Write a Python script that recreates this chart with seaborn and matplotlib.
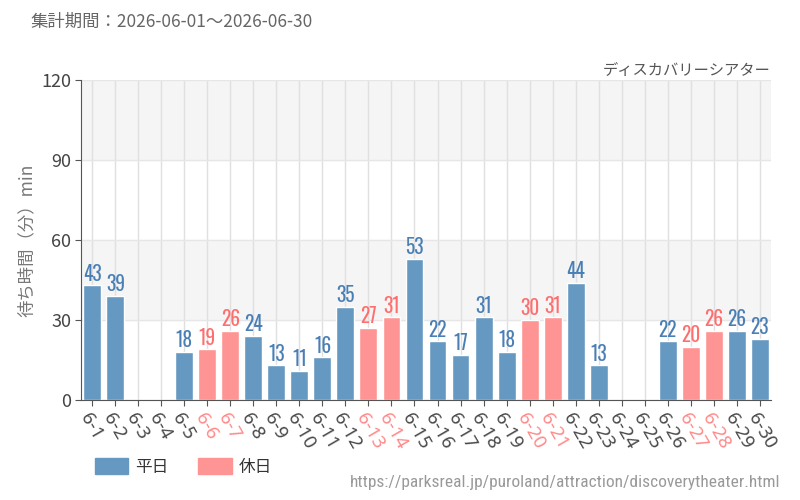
import numpy as np
import pandas as pd
import matplotlib
matplotlib.use("Agg")
import matplotlib.pyplot as plt
import seaborn as sns
from matplotlib.patches import Patch

# ─────────────── Data ───────────────
days = [f"6-{d}" for d in range(1, 31)]
wait = [43, 39, np.nan, np.nan, 18, 19, 26, 24, 13, 11,
        16, 35, 27, 31, 53, 22, 17, 31, 18, 30,
        31, 44, 13, np.nan, np.nan, 22, 20, 26, 26, 23]
holidays = ["6-6", "6-7", "6-13", "6-14", "6-20", "6-21", "6-27", "6-28"]
y_ticks = [0, 30, 60, 90, 120]

BLUE = "#6699c2"
PINK = "#ff9494"
BLUE_TXT = "#4a7fb5"
PINK_TXT = "#ff6e6e"

df = pd.DataFrame({"day": days, "wait": wait})
df["kind"] = np.where(df["day"].isin(holidays), "休日", "平日")

sns.set_style("white")
plt.rcParams["font.family"] = ["Noto Sans CJK JP", "DejaVu Sans"]
cond = ["Oswald", "Roboto Condensed", "Archivo Narrow", "DejaVu Sans"]
url_font = ["Roboto Condensed", "Archivo Narrow", "DejaVu Sans"]
tick_font = ["Noto Sans", "Open Sans", "DejaVu Sans"]

fig = plt.figure(figsize=(8, 5), dpi=100)
ax = fig.add_axes([0.101, 0.2, 0.863, 0.64])

# ─────────────── Background bands ───────────────
for lo, hi in [(30, 60), (90, 120)]:
    ax.axhspan(lo, hi, color="#f5f5f5", zorder=0)

# ─────────────── Bars ───────────────
sns.barplot(data=df, x="day", y="wait", hue="kind", dodge=False,
            palette={"平日": BLUE, "休日": PINK}, saturation=1, width=0.78,
            legend=False, ax=ax, zorder=2)

ax.set_ylim(0, 120)
ax.set_xlim(-0.5, len(days) - 0.5)
ax.set_yticks(y_ticks)
ax.grid(axis="x", color="#e0e0e0", lw=1, zorder=1)
ax.grid(axis="y", color="#e6e6e6", lw=1, zorder=1)
ax.set_axisbelow(True)

# ─────────────── Value labels ───────────────
for i, (d, v) in enumerate(zip(days, wait)):
    if np.isnan(v):
        continue
    c = PINK_TXT if d in holidays else BLUE_TXT
    ax.text(i, v + 0.6, f"{int(v)}", ha="center", va="bottom", fontsize=14,
            color=c, family=cond, zorder=3)

for s in ["top", "right"]:
    ax.spines[s].set_visible(False)
for s in ["left", "bottom"]:
    ax.spines[s].set_color("#555555")
ax.tick_params(axis="both", which="both", length=4, color="#555555",
               direction="out", left=True, bottom=True)
ax.tick_params(axis="y", labelsize=13, labelcolor="#444444", pad=3)
ax.tick_params(axis="x", pad=3)
ax.set_xlabel("")
ax.set_ylabel("待ち時間（分）min", fontsize=12.5, color="#777777", labelpad=4)

ax.set_xticks(range(len(days)))
ax.set_xticklabels(days, rotation=-60, ha="left", rotation_mode="anchor",
                   fontsize=13.5, family=tick_font)
for lbl in ax.get_xticklabels():
    lbl.set_color("#ff8a8a" if lbl.get_text() in holidays else "#4a4a4a")

# ─────────────── Texts ───────────────
fig.text(30 / 800, 1 - 22 / 500, "集計期間：2026-06-01〜2026-06-30",
         fontsize=12.5, color="#666666", va="center", ha="left")
fig.text(770 / 800, 1 - 70 / 500, "ディスカバリーシアター", fontsize=11,
         color="#555555", va="center", ha="right")
fig.text(780 / 800, 1 - 482 / 500,
         "https://parksreal.jp/puroland/attraction/discoverytheater.html",
         fontsize=12.5, color="#999999", va="center", ha="right", family=url_font)

handles = [Patch(color=BLUE, label="平日"), Patch(color=PINK, label="休日")]
fig.legend(handles=handles, loc="center left", bbox_to_anchor=(80 / 800, 1 - 467 / 500),
           ncol=2, frameon=False, fontsize=12, handlelength=2.0, handleheight=1.1,
           columnspacing=1.8, handletextpad=0.4, labelcolor="#333333")

fig.savefig("out.png", dpi=100)
